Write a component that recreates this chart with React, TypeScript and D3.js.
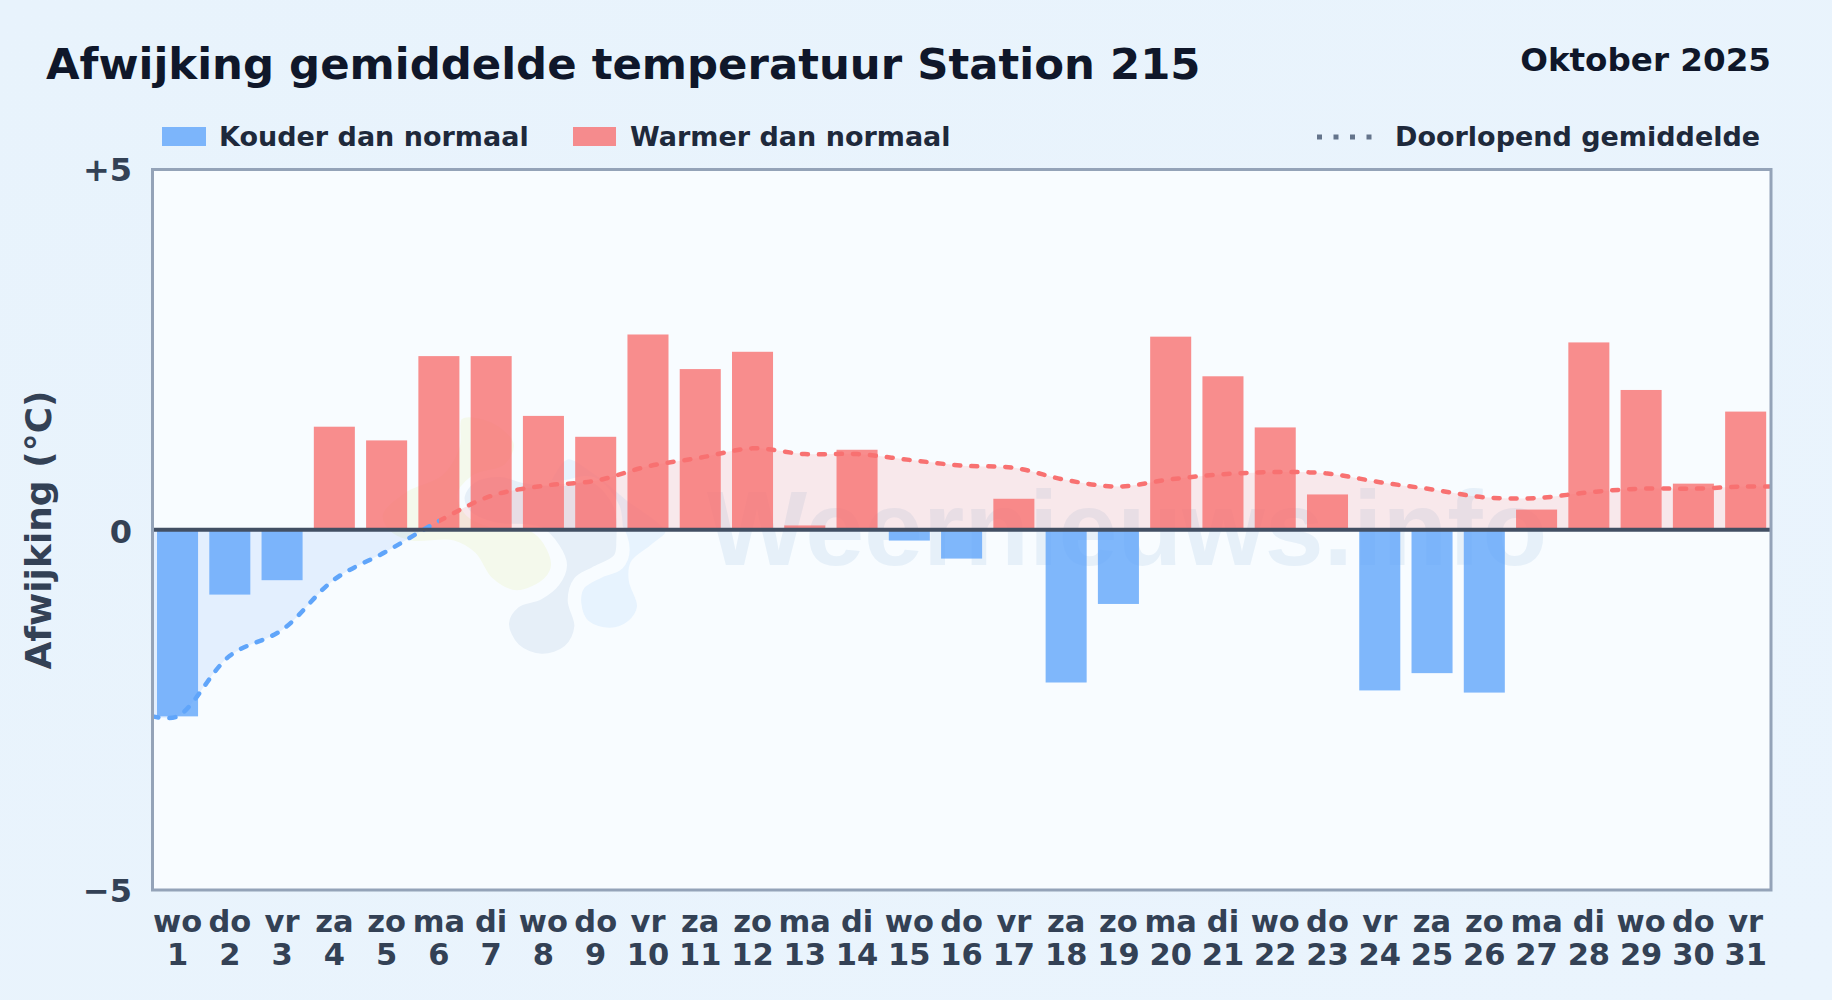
import React from "react";
import * as d3 from "d3";

const W = 1832, H = 1000;
const weekdays = ["wo","do","vr","za","zo","ma","di","wo","do","vr","za","zo","ma","di","wo","do","vr","za","zo","ma","di","wo","do","vr","za","zo","ma","di","wo","do","vr"];
const days = d3.range(1, 32).map(String);
const anomalies = [-2.59,-0.90,-0.70,1.43,1.24,2.41,2.41,1.58,1.29,2.71,2.23,2.47,0.06,1.11,-0.15,-0.40,0.43,-2.12,-1.03,2.68,2.13,1.42,0.49,-2.23,-1.99,-2.26,0.28,2.60,1.94,0.64,1.64];
const running = [-2.59,-1.75,-1.39,-0.69,-0.30,0.12,0.47,0.61,0.68,0.88,1.0,1.13,1.05,1.05,0.97,0.89,0.86,0.69,0.60,0.70,0.77,0.80,0.78,0.66,0.56,0.45,0.44,0.52,0.57,0.57,0.60];

const FONT = "'DejaVu Sans', sans-serif";
const M = { l: 152.5, r: 1771, t: 169.5, b: 890 };
const BLUE = "#60a5fa", RED = "#f87171";

// decorative logo outlines behind the chart (zoomed-crop coordinates)
const logoGreen: [number, number][] = [[300,50],[400,60],[470,130],[440,200],[340,235],[300,290],[350,350],[530,395],[582,490],[560,540],[470,580],[390,540],[340,465],[280,430],[150,430],[80,395],[60,340],[140,265],[240,220],[290,140]];
const logoLight: [number, number][] = [[620,170],[700,210],[800,290],[925,395],[880,440],[820,490],[815,540],[840,620],[810,670],[750,692],[680,670],[655,610],[665,560],[720,525],[780,500],[800,450],[770,370],[650,320],[560,280]];
const logoDark: [number, number][] = [[420,222],[490,240],[600,250],[700,240],[770,320],[778,420],[770,470],[700,510],[650,540],[632,600],[652,680],[620,745],[545,770],[470,740],[438,670],[470,615],[540,590],[590,550],[612,495],[590,440],[540,390],[400,375],[325,340],[305,290],[340,240]];

export default function App() {
  const x = d3.scaleBand<string>().domain(days).range([151.4, 1771.8]).paddingInner(0.215).paddingOuter(0.1075);
  const cx = (i: number) => x(days[i])! + x.bandwidth() / 2;
  const y = d3.scaleLinear().domain([-5, 5]).range([M.b, M.t]);
  const pts: [number, number][] = [
    [M.l, y(running[0])],
    ...running.map((v, i) => [cx(i), y(v)] as [number, number]),
    [M.r, y(running[running.length - 1])],
  ];
  const curve = d3.curveCatmullRom.alpha(0.5);
  const line = d3.line().curve(curve)(pts)!;
  const area = d3.area().curve(curve).y0(y(0))(pts)!;
  const crossX = cx(running.findIndex((v) => v > 0));
  const blob = d3.line<[number, number]>().x((p) => p[0] / 3 + 360).y((p) => p[1] / 3 + 400).curve(d3.curveCatmullRomClosed.alpha(0.5));
  const yTickOffset = (t: number) => (t > 0 ? 11 : t === 0 ? 13 : 11.5);
  return (
    <svg width={W} height={H} viewBox={`0 0 ${W} ${H}`} style={{ position: "absolute", left: 0, top: 0, fontFamily: FONT }}>
      <defs>
        <linearGradient id="bg" x1="0" y1="0" x2="1" y2="1">
          <stop offset="0" stopColor="#e8f3fc" />
          <stop offset="1" stopColor="#eaf4fd" />
        </linearGradient>
        <clipPath id="above"><rect x={M.l} y={M.t} width={M.r - M.l} height={y(0) - M.t} /></clipPath>
        <clipPath id="below"><rect x={M.l} y={y(0)} width={M.r - M.l} height={M.b - y(0)} /></clipPath>
        <clipPath id="lineBlue"><rect x={M.l} y={M.t} width={crossX - M.l} height={M.b - M.t} /></clipPath>
        <clipPath id="lineRed"><rect x={crossX} y={M.t} width={M.r - crossX} height={M.b - M.t} /></clipPath>
      </defs>
      <rect width={W} height={H} fill="url(#bg)" />
      <rect x={M.l} y={M.t} width={M.r - M.l} height={M.b - M.t} fill="#f8fcff" />

      {/* watermark */}
      <g stroke="#f8fcff" strokeWidth={6}>
        <path d={blob(logoGreen)!} fill="#f4f9ec" />
        <path d={blob(logoLight)!} fill="#e7f3fe" />
        <path d={blob(logoDark)!} fill="#e6eff8" />
      </g>
      <text x={707} y={565} fontSize={106} fontWeight={700} fontFamily="'Liberation Sans', sans-serif" fill="#e6f0f9">Weernieuws.info</text>

      {/* running mean area */}
      <path d={area} fill={RED} fillOpacity={0.14} clipPath="url(#above)" />
      <path d={area} fill={BLUE} fillOpacity={0.14} clipPath="url(#below)" />

      {/* bars */}
      {anomalies.map((v, i) => (
        <rect key={i} x={x(days[i])} width={x.bandwidth()} y={Math.min(y(v), y(0))} height={Math.abs(y(v) - y(0))} fill={v < 0 ? BLUE : RED} fillOpacity={0.8} />
      ))}

      {/* running mean line */}
      <path d={line} fill="none" stroke={RED} strokeWidth={4.5} strokeDasharray="6 11" strokeLinecap="round" clipPath="url(#lineRed)" />
      <path d={line} fill="none" stroke={BLUE} strokeWidth={4.5} strokeDasharray="6 11" strokeLinecap="round" clipPath="url(#lineBlue)" />

      {/* zero line & frame */}
      <line x1={M.l} x2={M.r} y1={y(0)} y2={y(0)} stroke="#424f63" strokeWidth={4} />
      <rect x={M.l} y={M.t} width={M.r - M.l} height={M.b - M.t} fill="none" stroke="#94a3b8" strokeWidth={3} />

      {/* titles */}
      <text x={46} y={79} fontSize={43.4} fontWeight={700} fill="#0f172a">Afwijking gemiddelde temperatuur Station 215</text>
      <text x={1771} y={70.5} textAnchor="end" fontSize={32.6} fontWeight={700} fill="#0f172a">Oktober 2025</text>

      {/* legend */}
      <rect x={162} y={127} width={44} height={19} fill={BLUE} fillOpacity={0.8} />
      <text x={219} y={146} fontSize={27} fontWeight={700} fill="#1e293b">Kouder dan normaal</text>
      <rect x={573} y={127} width={43} height={19} fill={RED} fillOpacity={0.8} />
      <text x={630} y={146} fontSize={27} fontWeight={700} fill="#1e293b">Warmer dan normaal</text>
      <line x1={1317} x2={1375} y1={137} y2={137} stroke="#64748b" strokeWidth={5} strokeDasharray="5 11.5" />
      <text x={1395} y={146} fontSize={27} fontWeight={700} fill="#1e293b">Doorlopend gemiddelde</text>

      {/* y ticks */}
      {[5, 0, -5].map((t) => (
        <text key={t} x={132} y={y(t) + yTickOffset(t)} textAnchor="end" fontSize={32} fontWeight={700} fill="#334155">
          {t > 0 ? "+" + t : t < 0 ? "\u2212" + -t : "0"}
        </text>
      ))}
      <text transform={`translate(50.5,530) rotate(-90)`} textAnchor="middle" fontSize={36} fontWeight={700} fill="#334155">Afwijking (°C)</text>

      {/* x ticks */}
      {days.map((d, i) => (
        <g key={d}>
          <text x={cx(i)} y={931.5} textAnchor="middle" fontSize={30.5} fontWeight={700} fill="#334155">{weekdays[i]}</text>
          <text x={cx(i)} y={965} textAnchor="middle" fontSize={30.5} fontWeight={700} fill="#334155">{d}</text>
        </g>
      ))}
    </svg>
  );
}
